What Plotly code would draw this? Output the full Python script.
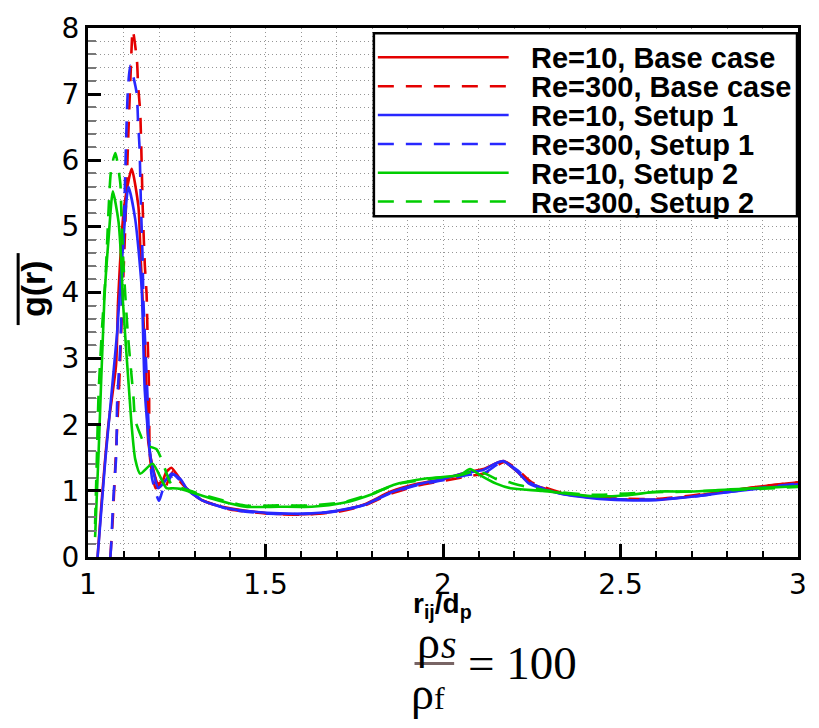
import plotly.graph_objects as go

# ---------------- data ----------------
re10_base_x = [1.027, 1.037, 1.057, 1.079, 1.085, 1.102, 1.123, 1.142, 1.148, 1.158, 1.165, 1.170, 1.185,
               1.197, 1.21, 1.22, 1.235, 1.25, 1.277, 1.314, 1.378, 1.444, 1.537, 1.63, 1.705, 1.78, 1.853,
               1.93, 2.003, 2.068, 2.114, 2.15, 2.17, 2.207, 2.244, 2.328, 2.42, 2.514, 2.607, 2.70, 2.793,
               2.886, 3.0]
re10_base_y = [0.0, 0.74, 1.98, 2.9, 3.9, 5.3, 5.87, 5.3, 4.57, 3.39, 2.5, 1.73, 1.3,
               1.11, 1.15, 1.28, 1.35, 1.25, 1.04, 0.88, 0.76, 0.70, 0.65, 0.65, 0.70, 0.80, 0.99,
               1.11, 1.18, 1.28, 1.33, 1.42, 1.45, 1.30, 1.12, 0.97, 0.90, 0.87, 0.87, 0.92, 0.99,
               1.06, 1.13]

re300_base_x = [1.063, 1.07, 1.078, 1.087, 1.095, 1.105, 1.113, 1.12, 1.126, 1.138, 1.141, 1.147, 1.151,
                1.154, 1.16, 1.165, 1.168, 1.172, 1.175, 1.191, 1.202, 1.211, 1.24, 1.25, 1.28, 1.32,
                1.4, 1.5, 1.6, 1.7, 1.78, 1.85, 1.93, 2.0, 2.07, 2.12, 2.15, 2.175, 2.21, 2.25, 2.33,
                2.42, 2.51, 2.6, 2.7, 2.8, 2.9, 3.0]
re300_base_y = [0.0, 0.6, 1.5, 2.5, 3.6, 5.0, 6.3, 7.3, 7.97, 7.5, 7.14, 6.73, 5.99,
                5.3, 4.42, 3.98, 3.3, 2.5, 1.48, 1.04, 1.1, 0.99, 1.3, 1.2, 1.02, 0.86,
                0.72, 0.66, 0.64, 0.68, 0.78, 0.95, 1.08, 1.15, 1.22, 1.27, 1.38, 1.44, 1.32, 1.13, 0.98,
                0.91, 0.88, 0.88, 0.93, 1.0, 1.07, 1.13]

re10_s1_x = [1.027, 1.049, 1.082, 1.10, 1.114, 1.133, 1.151, 1.16, 1.177, 1.198, 1.21, 1.235, 1.26,
             1.28, 1.32, 1.38, 1.44, 1.54, 1.63, 1.7, 1.78, 1.85, 1.93, 2.0, 2.07, 2.11, 2.15, 2.17,
             2.21, 2.245, 2.33, 2.42, 2.51, 2.6, 2.7, 2.8, 2.9, 3.0]
re10_s1_y = [0.0, 1.48, 3.39, 4.82, 5.6, 5.11, 4.08, 2.51, 1.48, 1.04, 1.1, 1.26, 1.18,
             1.02, 0.86, 0.75, 0.70, 0.66, 0.66, 0.70, 0.79, 0.97, 1.10, 1.18, 1.28, 1.31, 1.42, 1.45,
             1.29, 1.10, 0.96, 0.89, 0.86, 0.86, 0.91, 0.98, 1.04, 1.10]

re300_s1_x = [1.063, 1.065, 1.071, 1.08, 1.082, 1.091, 1.105, 1.107, 1.112, 1.119, 1.137, 1.141, 1.145,
              1.149, 1.154, 1.156, 1.167, 1.172, 1.18, 1.2, 1.21, 1.24, 1.26, 1.29, 1.33, 1.4, 1.5,
              1.6, 1.7, 1.78, 1.85, 1.93, 2.0, 2.07, 2.12, 2.15, 2.17, 2.21, 2.25, 2.33, 2.42, 2.51,
              2.6, 2.7, 2.8, 2.9, 3.0]
re300_s1_y = [0.0, 0.15, 0.85, 1.58, 2.32, 3.2, 5.8, 6.24, 7.02, 7.43, 7.02, 6.58, 6.21,
              5.36, 4.48, 3.89, 2.51, 1.8, 1.2, 0.85, 1.0, 1.25, 1.15, 0.98, 0.84, 0.72, 0.66,
              0.65, 0.69, 0.79, 0.96, 1.09, 1.16, 1.24, 1.28, 1.39, 1.44, 1.31, 1.11, 0.96, 0.90, 0.87,
              0.87, 0.91, 0.98, 1.05, 1.11]

re10_s2_x = [1.02, 1.03, 1.046, 1.058, 1.07, 1.086, 1.095, 1.098, 1.117, 1.123, 1.133, 1.147, 1.182,
             1.221, 1.239, 1.26, 1.35, 1.444, 1.537, 1.63, 1.72, 1.80, 1.86, 1.956, 2.048, 2.076,
             2.104, 2.15, 2.19, 2.28, 2.42, 2.51, 2.607, 2.70, 2.84, 3.0]
re10_s2_y = [0.3, 1.6, 3.89, 4.82, 5.53, 5.07, 4.33, 3.89, 2.42, 1.98, 1.48, 1.26, 1.41,
             1.04, 1.04, 1.03, 0.88, 0.76, 0.76, 0.76, 0.82, 0.95, 1.09, 1.19, 1.24, 1.33,
             1.24, 1.11, 1.04, 1.0, 0.92, 0.93, 0.99, 0.99, 1.03, 1.07]

re300_s2_x = [1.02, 1.025, 1.03, 1.04, 1.05, 1.065, 1.077, 1.091, 1.094, 1.10, 1.112, 1.128, 1.133,
              1.149, 1.16, 1.193, 1.207, 1.235, 1.26, 1.33, 1.44, 1.54, 1.63, 1.72, 1.8, 1.87, 1.96,
              2.05, 2.09, 2.12, 2.15, 2.18, 2.22, 2.3, 2.42, 2.52, 2.6, 2.7, 2.85, 3.0]
re300_s2_y = [0.5, 1.5, 2.5, 3.5, 4.3, 5.85, 6.11, 5.65, 5.2, 4.42, 3.39, 2.42, 2.07,
              1.83, 1.7, 1.63, 1.48, 1.1, 1.05, 0.93, 0.78, 0.78, 0.78, 0.83, 0.96, 1.1, 1.18,
              1.24, 1.3, 1.26, 1.18, 1.14, 1.08, 1.0, 0.94, 0.96, 0.98, 0.99, 1.02, 1.06]

series_names = ["Re=10, Base case", "Re=300, Base case", "Re=10, Setup 1",
                "Re=300, Setup 1", "Re=10, Setup 2", "Re=300, Setup 2"]
series_x = [re10_base_x, re300_base_x, re10_s1_x, re300_s1_x, re10_s2_x, re300_s2_x]
series_y = [re10_base_y, re300_base_y, re10_s1_y, re300_s1_y, re10_s2_y, re300_s2_y]

x_tickvals = [1, 1.5, 2, 2.5, 3]
x_ticktext = ["1", "1.5", "2", "2.5", "3"]
y_tickvals = [0, 1, 2, 3, 4, 5, 6, 7, 8]

# ---------------- styles ----------------
RED = "rgb(228,0,0)"
BLUE = "rgb(40,40,255)"
GREEN = "rgb(0,205,0)"
colors = [RED, RED, BLUE, BLUE, GREEN, GREEN]
DASH = "16px,12px"
dashes = ["solid", DASH, "solid", DASH, "solid", DASH]

W, H = 819, 728
ML, MR, MT, MB = 87.5, 15, 13.5, 170.5
PW, PH = W - ML - MR, H - MT - MB


def px(x):
    return (x - ML) / PW


def py(y):
    return (H - MB - y) / PH


FONT = "Liberation Sans, Arial, sans-serif"
TICKFONT = "DejaVu Sans, sans-serif"

fig = go.Figure()
for name, xs, ys, c, d in zip(series_names, series_x, series_y, colors, dashes):
    fig.add_trace(go.Scatter(x=xs, y=ys, mode="lines", name=name,
                             line=dict(color=c, width=2.6, dash=d, shape="spline", smoothing=0.6),
                             showlegend=False))

grid = dict(gridcolor="rgb(150,150,150)", griddash="1px,3px", gridwidth=1)

fig.update_layout(
    width=W, height=H, autosize=False,
    margin=dict(l=ML, r=MR, t=MT, b=MB, pad=0),
    paper_bgcolor="white", plot_bgcolor="white",
    font=dict(family=FONT, color="black"),
    xaxis=dict(range=[1, 3], tickvals=x_tickvals, ticktext=x_ticktext,
               ticks="inside", ticklen=13, tickwidth=3, tickcolor="black",
               showline=True, linewidth=3, linecolor="black", mirror=True,
               showgrid=True, **grid, zeroline=False, ticklabeloverflow="allow",
               tickfont=dict(size=28, family=TICKFONT),
               minor=dict(dtick=0.1, tick0=1, ticks="inside", ticklen=6, tickwidth=1.5,
                          tickcolor="black", showgrid=True, **grid)),
    yaxis=dict(range=[0, 8], tickvals=y_tickvals,
               ticks="inside", ticklen=13, tickwidth=3, tickcolor="black",
               showline=True, linewidth=3, linecolor="black", mirror=True,
               showgrid=True, **grid, zeroline=False, ticklabeloverflow="allow",
               tickfont=dict(size=28, family=TICKFONT),
               minor=dict(dtick=0.2, tick0=0, ticks="inside", ticklen=8, tickwidth=2,
                          tickcolor="rgb(120,120,120)", showgrid=True, **grid)),
)

shapes = []
annotations = []

# manual legend
lx0, lx1, ly0, ly1 = 376, 803, 19, 207
shapes.append(dict(type="rect", xref="paper", yref="paper",
                   x0=px(lx0), x1=px(lx1), y0=py(ly1), y1=py(ly0),
                   line=dict(color="black", width=2.5), fillcolor="white", layer="above"))
row_y = [43.5, 73.3, 103, 132.8, 162.3, 192]
for name, c, d, ry in zip(series_names, colors, dashes, row_y):
    shapes.append(dict(type="line", xref="paper", yref="paper",
                       x0=px(380), x1=px(512), y0=py(ry), y1=py(ry),
                       line=dict(color=c, width=2.5, dash=d), layer="above"))
    annotations.append(dict(xref="paper", yref="paper", x=px(533), y=py(ry + 1),
                            xanchor="left", yanchor="middle", showarrow=False,
                            text="<b>" + name + "</b>", font=dict(size=29, family=FONT)))

# axis titles
annotations.append(dict(xref="paper", yref="paper", x=px(445), y=py(607),
                        xanchor="center", yanchor="middle", showarrow=False,
                        text="<b>r<sub>ij</sub>/d<sub>p</sub></b>", font=dict(size=28, family=FONT)))
annotations.append(dict(xref="paper", yref="paper", x=px(32), y=py(282),
                        xanchor="center", yanchor="middle", showarrow=False, textangle=-90,
                        text="<b>g(r)</b>", font=dict(size=34, family=FONT)))
shapes.append(dict(type="line", xref="paper", yref="paper",
                   x0=px(17), x1=px(17), y0=py(245), y1=py(319),
                   line=dict(color="black", width=3)))

# density ratio formula
SERIF = "Liberation Serif, Times New Roman, serif"
annotations.append(dict(xref="paper", yref="paper", x=px(431), y=py(645),
                        xanchor="center", yanchor="middle", showarrow=False,
                        text="ρ", font=dict(size=46, family=SERIF)))
annotations.append(dict(xref="paper", yref="paper", x=px(452), y=py(647),
                        xanchor="center", yanchor="middle", showarrow=False,
                        text="<i>s</i>", font=dict(size=40, family=SERIF)))
shapes.append(dict(type="line", xref="paper", yref="paper",
                   x0=px(417), x1=px(457), y0=py(667), y1=py(667),
                   line=dict(color="rgb(120,100,100)", width=3)))
annotations.append(dict(xref="paper", yref="paper", x=px(431), y=py(698),
                        xanchor="center", yanchor="middle", showarrow=False,
                        text="ρ<span style='font-size:32px'>f</span>", font=dict(size=46, family=SERIF)))
annotations.append(dict(xref="paper", yref="paper", x=px(469), y=py(667),
                        xanchor="left", yanchor="middle", showarrow=False,
                        text="= 100", font=dict(size=47, family=SERIF)))

fig.update_layout(shapes=shapes, annotations=annotations)
fig.write_html("out.html")
